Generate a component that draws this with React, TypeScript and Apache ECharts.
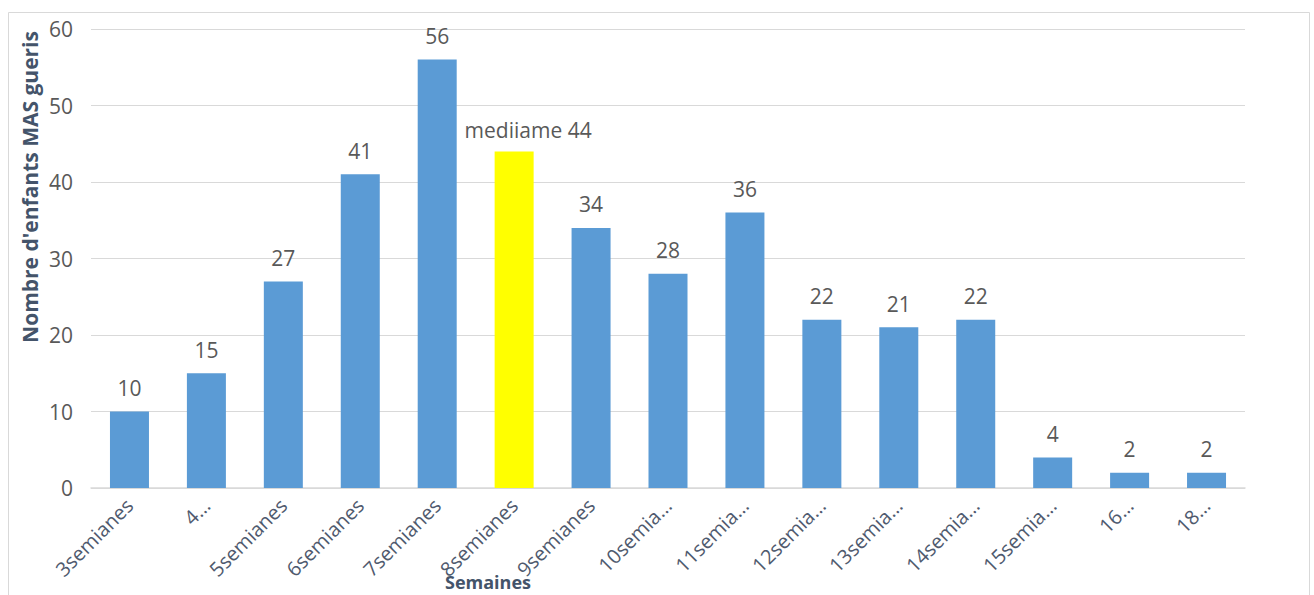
import React, { useEffect, useRef } from "react";
import * as echarts from "echarts";

const categories = [
  "3semianes", "4…", "5semianes", "6semianes", "7semianes", "8semianes", "9semianes",
  "10semia…", "11semia…", "12semia…", "13semia…", "14semia…", "15semia…", "16…", "18…",
];
const values = [10, 15, 27, 41, 56, 44, 34, 28, 36, 22, 21, 22, 4, 2, 2];
const medianIndex = 5;
const medianLabel = "mediiame 44";
const yTicks = { min: 0, max: 60, interval: 10 };
const yTitle = "Nombre d'enfants MAS gueris";
const xTitle = "Semaines";

export default function App() {
  const ref = useRef<HTMLDivElement>(null);
  useEffect(() => {
    const chart = echarts.init(ref.current!, null, { renderer: "svg" });
    const font = "'Open Sans', sans-serif";
    const txt = "#595959";
    chart.setOption({
      animation: false,
      grid: { left: 91, right: 69, top: 29, bottom: 107, containLabel: false },
      xAxis: {
        type: "category",
        data: categories,
        axisLine: { lineStyle: { color: "#d9d9d9", width: 1.5 } },
        axisTick: { show: false },
        axisLabel: { rotate: 45, interval: 0, margin: 14, color: "#4f5a6e", fontSize: 20, fontFamily: font },
      },
      yAxis: {
        type: "value",
        min: yTicks.min,
        max: yTicks.max,
        interval: yTicks.interval,
        axisLine: { show: false },
        axisTick: { show: false },
        splitLine: { lineStyle: { color: "#d9d9d9", width: 1 } },
        axisLabel: { color: txt, fontSize: 21, fontFamily: font, margin: 18 },
      },
      series: [
        {
          type: "bar",
          barWidth: 39,
          data: values.map((v, i) => ({
            value: v,
            itemStyle: { color: i === medianIndex ? "#ffff00" : "#5b9bd5" },
            label: i === medianIndex ? { formatter: medianLabel, distance: 11, offset: [14, 0] } : undefined,
          })),
          label: {
            show: true,
            position: "top",
            distance: 13,
            color: txt,
            fontSize: 21,
            fontFamily: font,
          },
        },
      ],
      graphic: [
        {
          type: "rect",
          shape: { x: 8.5, y: 12.5, width: 1301, height: 600 },
          style: { fill: "none", stroke: "#d9d9d9", lineWidth: 1 },
          silent: true,
        },
        {
          type: "text",
          x: 30,
          y: 187,
          rotation: Math.PI / 2,
          style: {
            text: yTitle,
            fill: "#44546a",
            font: `bold 21px ${font}`,
            align: "center",
            verticalAlign: "middle",
          },
        },
        {
          type: "text",
          x: 488,
          y: 582,
          style: {
            text: xTitle,
            fill: "#44546a",
            font: `bold 18px ${font}`,
            align: "center",
            verticalAlign: "middle",
          },
        },
      ],
    });
    return () => chart.dispose();
  }, []);
  return (
    <div
      ref={ref}
      style={{ position: "absolute", left: 0, top: 0, width: 1314, height: 595, background: "#fff" }}
    />
  );
}
